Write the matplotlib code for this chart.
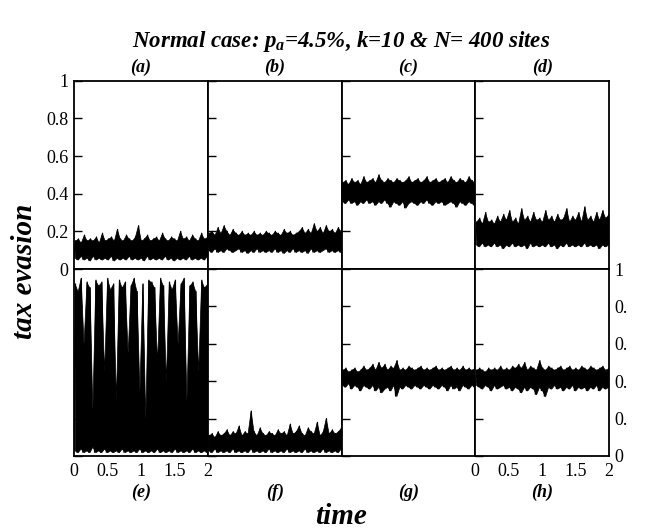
import numpy as np
import matplotlib.pyplot as plt
from matplotlib.transforms import Bbox, TransformedBbox

plt.rcParams['font.family'] = ['Liberation Serif', 'DejaVu Serif']
plt.rcParams['mathtext.fontset'] = 'custom'
plt.rcParams['mathtext.it'] = 'Liberation Serif:bold:italic'
plt.rcParams['mathtext.rm'] = 'Liberation Serif:bold:italic'

# tax evasion level vs time (noisy traces, trough/peak pairs)
series_a = [0.06, 0.15, 0.05, 0.16, 0.07, 0.14, 0.05, 0.18, 0.06, 0.15, 0.045, 0.16, 0.07, 0.15, 0.05, 0.17,
            0.06, 0.14, 0.05, 0.19, 0.06, 0.15, 0.05, 0.16, 0.07, 0.17, 0.045, 0.15, 0.06, 0.21, 0.05, 0.16,
            0.06, 0.15, 0.05, 0.18, 0.07, 0.16, 0.05, 0.15, 0.06, 0.17, 0.05, 0.23, 0.06, 0.15, 0.045, 0.16,
            0.07, 0.18, 0.05, 0.15, 0.06, 0.16, 0.05, 0.17, 0.06, 0.15, 0.05, 0.19, 0.07, 0.16, 0.05, 0.15,
            0.06, 0.17, 0.045, 0.16, 0.06, 0.15, 0.05, 0.2, 0.06, 0.16, 0.05, 0.17, 0.07, 0.15, 0.05, 0.18,
            0.06, 0.16, 0.05, 0.15, 0.06, 0.19, 0.05, 0.16, 0.07, 0.17]
series_b = [0.1, 0.19, 0.09, 0.2, 0.11, 0.18, 0.09, 0.22, 0.1, 0.19, 0.09, 0.23, 0.11, 0.2, 0.1, 0.18,
            0.09, 0.21, 0.1, 0.19, 0.11, 0.18, 0.09, 0.2, 0.1, 0.18, 0.085, 0.19, 0.1, 0.18, 0.09, 0.2,
            0.11, 0.18, 0.09, 0.19, 0.1, 0.18, 0.09, 0.2, 0.1, 0.19, 0.09, 0.18, 0.11, 0.2, 0.09, 0.19,
            0.1, 0.18, 0.085, 0.21, 0.1, 0.19, 0.09, 0.2, 0.11, 0.18, 0.09, 0.19, 0.1, 0.2, 0.09, 0.22,
            0.1, 0.19, 0.085, 0.21, 0.11, 0.19, 0.09, 0.24, 0.1, 0.2, 0.09, 0.22, 0.1, 0.19, 0.11, 0.23,
            0.09, 0.2, 0.1, 0.21, 0.09, 0.19, 0.1, 0.22, 0.09, 0.2]
series_c = [0.36, 0.46, 0.35, 0.47, 0.37, 0.45, 0.35, 0.48, 0.36, 0.46, 0.34, 0.47, 0.36, 0.45, 0.35, 0.49,
            0.37, 0.46, 0.35, 0.47, 0.36, 0.48, 0.34, 0.46, 0.36, 0.5, 0.35, 0.47, 0.37, 0.46, 0.35, 0.48,
            0.33, 0.47, 0.36, 0.46, 0.35, 0.48, 0.34, 0.47, 0.36, 0.46, 0.325, 0.47, 0.35, 0.49, 0.36, 0.46,
            0.35, 0.47, 0.34, 0.48, 0.36, 0.46, 0.35, 0.47, 0.37, 0.49, 0.35, 0.46, 0.34, 0.47, 0.36, 0.48,
            0.35, 0.46, 0.36, 0.47, 0.34, 0.48, 0.35, 0.46, 0.36, 0.49, 0.35, 0.47, 0.33, 0.46, 0.36, 0.48,
            0.35, 0.47, 0.34, 0.46, 0.36, 0.49, 0.35, 0.47, 0.34, 0.46]
series_d = [0.13, 0.25, 0.12, 0.27, 0.14, 0.24, 0.12, 0.3, 0.13, 0.25, 0.12, 0.26, 0.14, 0.24, 0.12, 0.28,
            0.13, 0.25, 0.11, 0.29, 0.13, 0.26, 0.12, 0.31, 0.14, 0.25, 0.12, 0.27, 0.13, 0.24, 0.12, 0.32,
            0.13, 0.26, 0.11, 0.28, 0.14, 0.25, 0.12, 0.3, 0.13, 0.26, 0.12, 0.27, 0.13, 0.25, 0.12, 0.31,
            0.14, 0.26, 0.12, 0.28, 0.13, 0.25, 0.11, 0.29, 0.13, 0.26, 0.12, 0.27, 0.14, 0.32, 0.12, 0.25,
            0.13, 0.28, 0.12, 0.26, 0.13, 0.3, 0.12, 0.25, 0.14, 0.33, 0.12, 0.26, 0.13, 0.28, 0.12, 0.25,
            0.13, 0.3, 0.11, 0.26, 0.13, 0.31, 0.12, 0.27, 0.13, 0.29]
series_e = [0.03, 0.92, 0.02, 0.88, 0.04, 0.95, 0.02, 0.6, 0.03, 0.93, 0.02, 0.9, 0.05, 0.25, 0.02, 0.94,
            0.03, 0.91, 0.02, 0.93, 0.04, 0.45, 0.02, 0.95, 0.03, 0.89, 0.02, 0.92, 0.03, 0.3, 0.02, 0.94,
            0.04, 0.9, 0.02, 0.93, 0.03, 0.55, 0.02, 0.91, 0.03, 0.95, 0.02, 0.88, 0.04, 0.35, 0.02, 0.92,
            0.03, 0.2, 0.02, 0.94, 0.03, 0.93, 0.02, 0.9, 0.04, 0.5, 0.02, 0.95, 0.03, 0.91, 0.02, 0.4,
            0.03, 0.93, 0.02, 0.89, 0.04, 0.94, 0.02, 0.6, 0.03, 0.92, 0.02, 0.95, 0.03, 0.3, 0.02, 0.91,
            0.04, 0.93, 0.02, 0.88, 0.03, 0.45, 0.02, 0.94, 0.03, 0.9, 0.02, 0.92]
series_f = [0.03, 0.11, 0.02, 0.12, 0.04, 0.1, 0.02, 0.13, 0.03, 0.11, 0.02, 0.12, 0.03, 0.14, 0.02, 0.11,
            0.04, 0.13, 0.02, 0.12, 0.03, 0.16, 0.02, 0.11, 0.03, 0.13, 0.02, 0.12, 0.04, 0.24, 0.02, 0.13,
            0.03, 0.11, 0.02, 0.15, 0.03, 0.12, 0.02, 0.11, 0.04, 0.13, 0.02, 0.12, 0.03, 0.11, 0.02, 0.14,
            0.03, 0.12, 0.02, 0.13, 0.04, 0.11, 0.02, 0.17, 0.03, 0.12, 0.02, 0.13, 0.03, 0.16, 0.02, 0.12,
            0.04, 0.11, 0.02, 0.15, 0.03, 0.13, 0.02, 0.12, 0.03, 0.18, 0.02, 0.11, 0.04, 0.13, 0.02, 0.2,
            0.03, 0.12, 0.02, 0.14, 0.03, 0.12, 0.02, 0.13, 0.04, 0.15]
series_g = [0.38, 0.46, 0.37, 0.47, 0.39, 0.45, 0.36, 0.46, 0.38, 0.47, 0.37, 0.45, 0.35, 0.46, 0.38, 0.48,
            0.37, 0.46, 0.36, 0.47, 0.38, 0.49, 0.35, 0.46, 0.37, 0.5, 0.34, 0.47, 0.36, 0.49, 0.37, 0.46,
            0.35, 0.48, 0.38, 0.47, 0.32, 0.51, 0.37, 0.46, 0.36, 0.47, 0.38, 0.46, 0.37, 0.48, 0.36, 0.47,
            0.38, 0.46, 0.37, 0.47, 0.36, 0.48, 0.38, 0.46, 0.37, 0.47, 0.36, 0.46, 0.38, 0.47, 0.37, 0.48,
            0.36, 0.46, 0.38, 0.47, 0.37, 0.46, 0.35, 0.47, 0.38, 0.48, 0.36, 0.46, 0.37, 0.47, 0.35, 0.46,
            0.38, 0.48, 0.37, 0.46, 0.36, 0.47, 0.38, 0.46, 0.37, 0.47]
series_h = [0.38, 0.46, 0.37, 0.47, 0.36, 0.46, 0.38, 0.45, 0.37, 0.47, 0.35, 0.46, 0.38, 0.47, 0.36, 0.46,
            0.37, 0.48, 0.38, 0.46, 0.36, 0.47, 0.37, 0.46, 0.35, 0.48, 0.37, 0.47, 0.36, 0.49, 0.34, 0.47,
            0.37, 0.5, 0.35, 0.46, 0.37, 0.48, 0.36, 0.47, 0.33, 0.46, 0.37, 0.51, 0.35, 0.47, 0.32, 0.46,
            0.37, 0.48, 0.36, 0.47, 0.38, 0.46, 0.36, 0.47, 0.37, 0.48, 0.35, 0.46, 0.37, 0.47, 0.36, 0.48,
            0.38, 0.46, 0.35, 0.47, 0.37, 0.46, 0.36, 0.48, 0.37, 0.47, 0.35, 0.46, 0.37, 0.48, 0.36, 0.47,
            0.38, 0.46, 0.35, 0.47, 0.37, 0.48, 0.36, 0.46, 0.37, 0.47]

panel_names = ['(a)', '(b)', '(c)', '(d)', '(e)', '(f)', '(g)', '(h)']
all_series = [series_a, series_b, series_c, series_d, series_e, series_f, series_g, series_h]
y_ticks = [0, 0.2, 0.4, 0.6, 0.8, 1]
y_tick_labels = ['0', '0.2', '0.4', '0.6', '0.8', '1']
x_ticks = [0, 0.5, 1, 1.5, 2]
x_tick_labels = ['0', '0.5', '1', '1.5', '2']
t_max = 2.0

W, H = 647, 531
fig = plt.figure(figsize=(W / 100, H / 100), dpi=100)

left_px = 74
col_w = (609 - 74) / 4
rows_px = [(80.7, 269), (269, 456)]  # top, bottom of each row in pixels

axes = []
for i, (name, vals) in enumerate(zip(panel_names, all_series)):
    row, col = divmod(i, 4)
    top, bot = rows_px[row]
    ax = fig.add_axes([(left_px + col * col_w) / W, 1 - bot / H, col_w / W, (bot - top) / H])
    axes.append(ax)
    vals = np.asarray(vals)
    t = np.linspace(0, t_max, len(vals))
    # solid band between each trough and the following peak, plus the raw trace for the spikes
    pairs = vals.reshape(-1, 2)
    tp = t.reshape(-1, 2).mean(axis=1)
    ax.fill_between(tp, pairs.min(axis=1), pairs.max(axis=1), color='black', lw=0.5)
    ax.plot(t, vals, color='black', lw=0.9)
    ax.set_xlim(0, t_max)
    ax.set_ylim(0, 1)
    for sp in ax.spines.values():
        sp.set_linewidth(1.3)
    ax.set_yticks(y_ticks)
    ax.tick_params(axis='y', direction='in', length=6, width=1, labelsize=13, pad=4)
    ax.set_yticklabels(y_tick_labels if i == 0 else [])
    ax.set_xticks(x_ticks)
    ax.tick_params(axis='x', length=0, labelsize=13, pad=5)
    ax.set_xticklabels(x_tick_labels if i in (4, 7) else [])
    # panel letters
    if row == 0:
        ax.annotate(name, (0.5, 1), xycoords='axes fraction', xytext=(0, 13), textcoords='offset pixels',
                    ha='center', va='center', fontsize=13, fontweight='bold', fontstyle='italic')
    else:
        ax.annotate(name, (0.5, 0), xycoords='axes fraction', xytext=(0, -36), textcoords='offset pixels',
                    ha='center', va='center', fontsize=13, fontweight='bold', fontstyle='italic')

# panel (h) carries its y labels on the right, cut off at the image edge in the reference
ax_h = axes[7]
ax_h.tick_params(axis='y', labelright=True, labelleft=False, right=False)
ax_h.set_yticklabels(y_tick_labels)
clip = TransformedBbox(Bbox([[0, 0], [627 / W, 1]]), fig.transFigure)
for tick in ax_h.yaxis.get_major_ticks():
    if tick.label2.get_text() not in ('0', '1'):
        tick.label2.set_clip_box(clip)
        tick.label2.set_clip_on(True)

fig.text(341 / W, 1 - 41 / H, r'Normal case: $p_a$=4.5%, k=10 & N= 400 sites', ha='center', va='center',
         fontsize=16.5, fontweight='bold', fontstyle='italic')
fig.text(341 / W, 1 - 517 / H, 'time', ha='center', va='center',
         fontsize=21, fontweight='bold', fontstyle='italic')
fig.text(25 / W, 1 - 271 / H, 'tax evasion', ha='center', va='center', rotation=90,
         fontsize=21, fontweight='bold', fontstyle='italic')

fig.savefig('out.png', dpi=100)
